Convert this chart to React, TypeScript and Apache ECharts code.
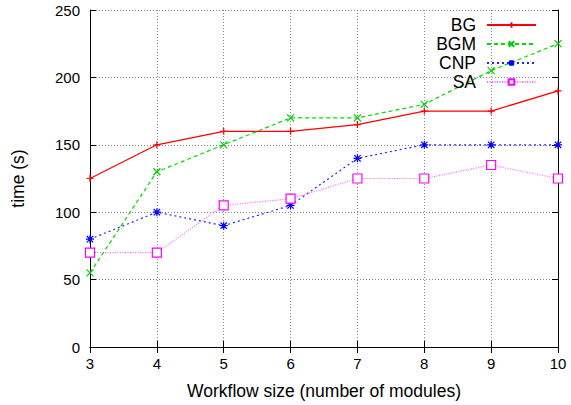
import React, { useEffect, useRef } from "react";
import * as echarts from "echarts";

const sizes = [3, 4, 5, 6, 7, 8, 9, 10];
const bg = [125, 150, 160, 160, 165, 175, 175, 190];
const bgm = [55, 130, 150, 170, 170, 180, 205, 225];
const cnp = [80, 100, 90, 105, 140, 150, 150, 150];
const sa = [70, 70, 105, 110, 125, 125, 135, 125];
const seriesNames = ["BG", "BGM", "CNP", "SA"];

const plus = "path://M0,5L10,5M5,0L5,10";
const cross = "path://M0,0L10,10M10,0L0,10";
const star = "path://M0,5L10,5M5,0L5,10M1,1L9,9M9,1L1,9";

const FONT = "'Liberation Sans', Arial, sans-serif";

export default function App() {
  const ref = useRef<HTMLDivElement>(null);
  useEffect(() => {
    const chart = echarts.init(ref.current!, null, { renderer: "svg" });
    const pair = (vals: number[]) => sizes.map((s, i) => [s, vals[i]]);
    const mk = (name: string, vals: number[], color: string, lineColor: string, type: any, symbol: string, size: number, fill: string) => ({
      name,
      type: "line",
      data: pair(vals),
      symbol,
      symbolSize: size,
      showSymbol: true,
      lineStyle: { color: lineColor, width: 1.2, type },
      itemStyle: { color: fill, borderColor: color, borderWidth: 1.2 },
      emphasis: { disabled: true },
    });
    chart.setOption({
      animation: false,
      backgroundColor: "#ffffff",
      textStyle: { fontFamily: FONT },
      grid: { left: 90, right: 13, top: 10, bottom: 56, containLabel: false },
      legend: {
        data: seriesNames,
        orient: "vertical",
        align: "right",
        right: 34,
        top: 16,
        padding: 0,
        itemWidth: 49,
        itemHeight: 7,
        itemGap: 1,
        textStyle: { fontFamily: FONT, fontSize: 17.5, lineHeight: 17.5, color: "#000", padding: [0, 6, 0, 0] },
        selectedMode: false,
      },
      xAxis: [
        {
          type: "value",
          min: 3,
          max: 10,
          interval: 1,
          name: "Workflow size (number of modules)",
          nameLocation: "middle",
          nameGap: 35,
          nameTextStyle: { fontSize: 17.5, color: "#000", fontFamily: FONT },
          axisLine: { lineStyle: { color: "#000", width: 1 } },
          axisTick: { inside: true, length: 6, lineStyle: { color: "#000" } },
          axisLabel: { fontSize: 15, color: "#000", margin: 9, fontFamily: FONT },
          splitLine: { show: true, lineStyle: { color: "#888", type: [1, 2], width: 1 } },
        },
        {
          type: "value",
          position: "top",
          min: 3,
          max: 10,
          interval: 1,
          axisLine: { show: true, lineStyle: { color: "#000", width: 1 } },
          axisTick: { inside: true, length: 6, lineStyle: { color: "#000" } },
          axisLabel: { show: false },
          splitLine: { show: false },
        },
      ],
      yAxis: [
        {
          type: "value",
          min: 0,
          max: 250,
          interval: 50,
          name: "time (s)",
          nameLocation: "middle",
          nameGap: 63,
          nameTextStyle: { fontSize: 17.5, color: "#000", fontFamily: FONT },
          axisLine: { show: true, lineStyle: { color: "#000", width: 1 } },
          axisTick: { show: true, inside: true, length: 6, lineStyle: { color: "#000" } },
          axisLabel: { fontSize: 15, color: "#000", margin: 10, fontFamily: FONT },
          splitLine: { show: true, lineStyle: { color: "#888", type: [1, 2], width: 1 } },
        },
        {
          type: "value",
          position: "right",
          min: 0,
          max: 250,
          interval: 50,
          axisLine: { show: true, lineStyle: { color: "#000", width: 1 } },
          axisTick: { show: true, inside: true, length: 6, lineStyle: { color: "#000" } },
          axisLabel: { show: false },
          splitLine: { show: false },
        },
      ],
      series: [
        mk("BG", bg, "#ff0000", "#ff0000", "solid", plus, 7, "#ff0000"),
        mk("BGM", bgm, "#00cc00", "#00dd00", [4, 3], cross, 7, "#00cc00"),
        mk("CNP", cnp, "#0000ff", "#2222ff", [2, 3], star, 8, "#0000ff"),
        mk("SA", sa, "#ff00ff", "#ff66ff", [1, 1.5], "rect", 9, "#ffffff"),
      ],
    });
    return () => chart.dispose();
  }, []);
  return <div ref={ref} style={{ position: "fixed", left: 0, top: 0, width: 571, height: 405 }} />;
}
